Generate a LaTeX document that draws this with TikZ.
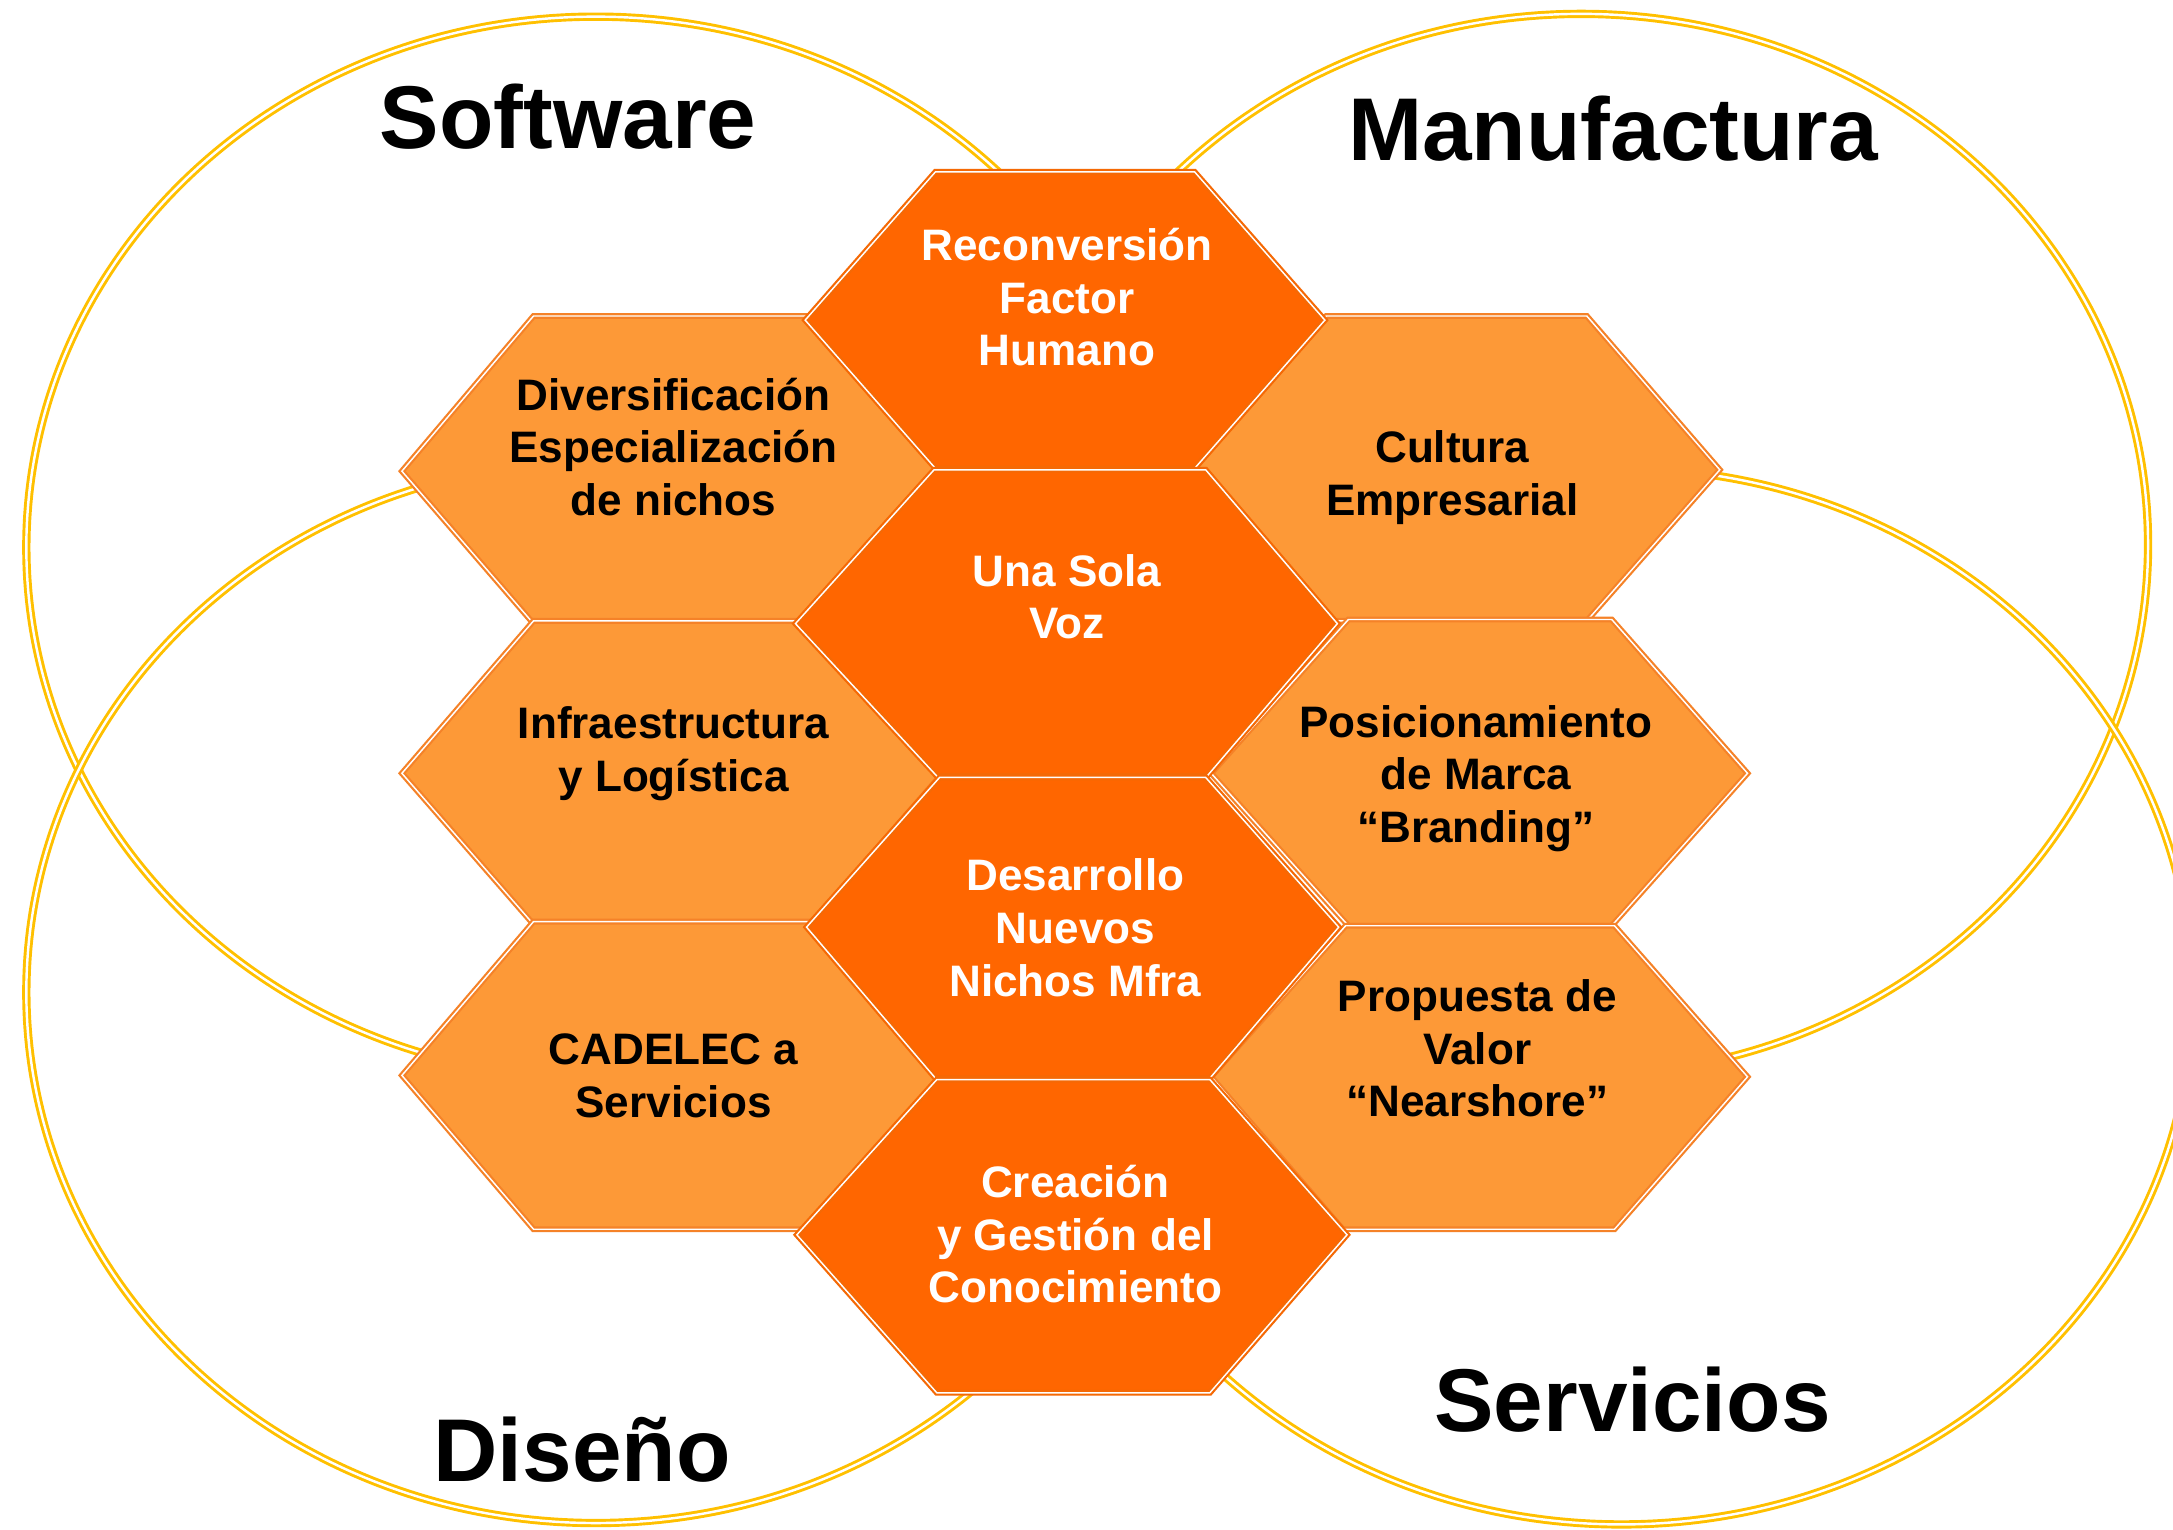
\documentclass[tikz,border=0pt]{standalone}
\usepackage{fontspec}
\setmainfont{Liberation Sans}
\definecolor{ringgold}{RGB}{255,192,0}
\definecolor{darkor}{RGB}{255,102,0}
\definecolor{lightor}{RGB}{253,153,55}
\definecolor{darkorline}{RGB}{245,105,5}
\definecolor{lightorline}{RGB}{245,130,40}
\tikzset{
  ring/.style={draw=ringgold, double=white, line width=0.6pt, double distance=0.5pt},
  darkhex/.style={fill=darkor, draw=darkorline, double=white, line width=0.45pt, double distance=0.3pt, line join=miter},
  lighthex/.style={fill=lightor, draw=lightorline, double=white, line width=0.45pt, double distance=0.3pt, line join=miter},
  hextxt/.style={align=center, inner sep=0pt, font=\fontsize{9.05}{10.8}\selectfont\bfseries,
     execute at begin node=\strut, execute at end node=\strut},
  whitetxt/.style={hextxt, text=white},
  blacktxt/.style={hextxt, text=black},
  lbl/.style={font=\fontsize{18.3}{22}\selectfont\bfseries, anchor=base, inner sep=0pt, text=black}
}
\begin{document}
\begin{tikzpicture}[x=0.1mm, y=-0.1mm]
\useasboundingbox (0,0) rectangle (1568,1104);
\clip (0,0) rectangle (1568,1104);
\fill[white] (0,0) rectangle (1568,1104);
% rings
\draw[ring] (430,395) ellipse [x radius=41.1mm, y radius=38.3mm];
\draw[ring] (1141,393) ellipse [x radius=40.9mm, y radius=38.3mm];
\draw[ring] (430,716) ellipse [x radius=41.1mm, y radius=38.3mm];
\draw[ring] (1170,719) ellipse [x radius=41.2mm, y radius=38.1mm];
% side hexagons
\draw[lighthex] (385,228) -- (585,228) -- (680,340) -- (585,450) -- (385,450) -- (290,340) -- cycle;
\draw[lighthex] (385,448) -- (585,448) -- (680,558) -- (585,667) -- (385,667) -- (290,558) -- cycle;
\draw[lighthex] (385,665) -- (585,665) -- (680,776) -- (585,887) -- (385,887) -- (290,776) -- cycle;
\draw[lighthex] (957,228) -- (1145,228) -- (1241,339) -- (1145,448) -- (957,448) -- (861,339) -- cycle;
\draw[lighthex] (973,447) -- (1163,447) -- (1261,558) -- (1163,668) -- (973,668) -- (874,558) -- cycle;
\draw[lighthex] (971,668) -- (1165,668) -- (1261,777) -- (1165,887) -- (969,887) -- (874,777) -- cycle;
% central hexagons
\draw[darkhex] (675,124) -- (862,124) -- (956,231) -- (862,338) -- (675,338) -- (581,231) -- cycle;
\draw[darkhex] (674,339) -- (870,339) -- (965,450) -- (871,560) -- (676,560) -- (574,450) -- cycle;
\draw[darkhex] (678,561) -- (870,561) -- (966,669) -- (873,778) -- (675,778) -- (582,669) -- cycle;
\draw[darkhex] (676,779) -- (873,779) -- (972,891) -- (873,1005) -- (676,1005) -- (575,891) -- cycle;
% texts
\node[whitetxt] (h1) at (770,220) {Reconversión\\Factor\\Humano};
\node[whitetxt] (h2) at (770,436) {Una Sola\\Voz};
\node[whitetxt] (h3) at (776,675) {Desarrollo\\Nuevos\\Nichos Mfra};
\node[whitetxt] (h4) at (776,896) {Creación\\y Gestión del\\Conocimiento};
\node[blacktxt] (l1) at (486,328) {Diversificación\\Especialización\\de nichos};
\node[blacktxt] (l2) at (486,546) {Infraestructura\\y Logística};
\node[blacktxt] (l3) at (486,782) {CADELEC a\\Servicios};
\node[blacktxt] (r1) at (1048,347) {Cultura\\Empresarial};
\node[blacktxt] (r2) at (1065,564) {Posicionamiento\\de Marca\\“Branding”};
\node[blacktxt] (r3) at (1066,762) {Propuesta de\\Valor\\“Nearshore”};
% ring labels
\node[lbl] (software) at (410,107) {Software};
\node[lbl] (manufactura) at (1164,116) {Manufactura};
\node[lbl] (diseno) at (420,1069) {Diseño};
\node[lbl] (servicios) at (1178,1033) {Servicios};
\end{tikzpicture}
\end{document}
